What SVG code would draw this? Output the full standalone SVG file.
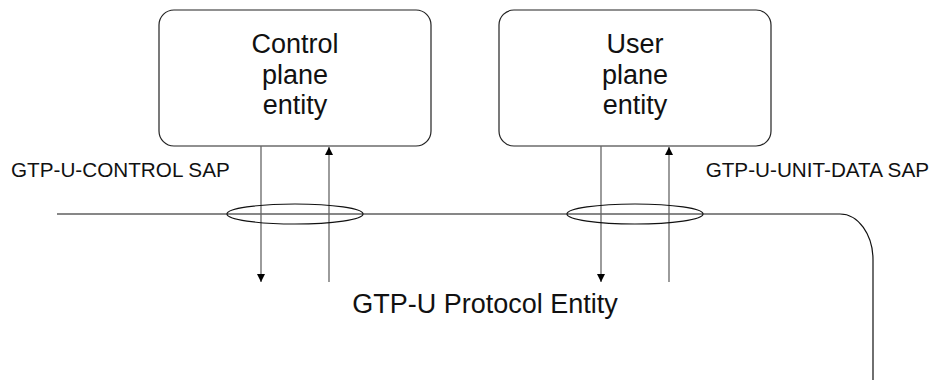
<svg xmlns="http://www.w3.org/2000/svg" width="934" height="380" viewBox="0 0 934 380">
<style>
.box{fill:#fff;stroke:#222;stroke-width:1.2}
.t{font-family:"Liberation Sans",Arial,sans-serif;fill:#111}
.big{font-size:27px;text-anchor:middle}
.sap{font-size:20.7px}
.arr{stroke:#666;stroke-width:1.3;fill:none}
.ln{stroke:#111;stroke-width:1.2;fill:none}
</style>
<defs>
<marker id="ah" viewBox="0 0 8 10" refX="8" refY="5" markerWidth="8" markerHeight="10" markerUnits="userSpaceOnUse" orient="auto">
<path d="M0,1 L8,5 L0,9 z" fill="#000"/>
</marker>
</defs>
<g id="node-control">
<rect class="box" x="159" y="10" width="272" height="136" rx="15"/>
<text class="t big" x="295" y="53">Control</text>
<text class="t big" x="295" y="84">plane</text>
<text class="t big" x="295" y="114">entity</text>
</g>
<g id="node-user">
<rect class="box" x="499" y="10" width="272" height="136" rx="15"/>
<text class="t big" x="635" y="53">User</text>
<text class="t big" x="635" y="84">plane</text>
<text class="t big" x="635" y="114">entity</text>
</g>
<g id="node-protocol">
<path class="ln" d="M57,214 H840 A33,46 0 0 1 873,260 V380"/>
<text class="t big" x="485" y="313">GTP-U Protocol Entity</text>
</g>
<g id="connectors">
<line class="arr" x1="261" y1="146" x2="261" y2="282" marker-end="url(#ah)"/>
<line class="arr" x1="329" y1="282" x2="329" y2="147" marker-end="url(#ah)"/>
<line class="arr" x1="601" y1="146" x2="601" y2="282" marker-end="url(#ah)"/>
<line class="arr" x1="669" y1="282" x2="669" y2="147" marker-end="url(#ah)"/>
<ellipse class="ln" cx="295" cy="214" rx="68" ry="10"/>
<ellipse class="ln" cx="635" cy="214" rx="68" ry="10"/>
</g>
<g id="labels">
<text class="t sap" x="11" y="177">GTP-U-CONTROL SAP</text>
<text class="t sap" x="929" y="177" text-anchor="end">GTP-U-UNIT-DATA SAP</text>
</g>
</svg>
